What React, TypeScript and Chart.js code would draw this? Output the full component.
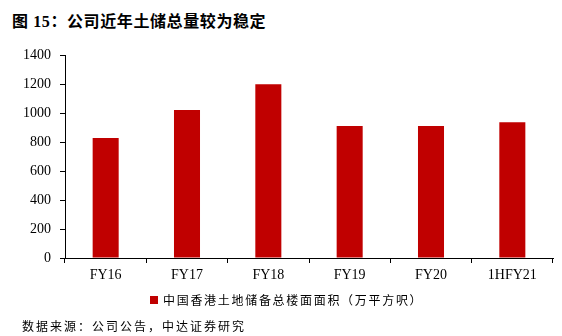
import React, { useEffect, useRef } from "react";
import { Chart, registerables } from "chart.js";

Chart.register(...registerables);

const categories = ["FY16", "FY17", "FY18", "FY19", "FY20", "1HFY21"];
const landBank = [827, 1020, 1198, 910, 910, 936];
const yTicks = [0, 200, 400, 600, 800, 1000, 1200, 1400];
const seriesName = "中国香港土地储备总楼面面积（万平方呎）";
const titleText = "图 15：公司近年土储总量较为稳定";
const sourceText = "数据来源：公司公告，中达证券研究";

export default function App() {
  const ref = useRef<HTMLCanvasElement | null>(null);
  useEffect(() => {
    document.body.style.margin = "0";
    const chart = new Chart(ref.current as HTMLCanvasElement, {
      type: "bar",
      data: {
        labels: categories,
        datasets: [
          {
            label: seriesName,
            data: landBank,
            backgroundColor: "#C00000",
            borderWidth: 0,
            barPercentage: 0.32,
            categoryPercentage: 1,
          },
        ],
      },
      options: {
        animation: false,
        responsive: false,
        maintainAspectRatio: false,
        layout: { padding: { left: 0, right: 9, top: 55, bottom: 53 } },
        plugins: { legend: { display: false }, title: { display: false }, tooltip: { enabled: false } },
        scales: {
          x: {
            afterFit: (s: any) => { s.height = 25; },
            grid: { display: true, offset: true, drawOnChartArea: false, drawTicks: true, tickLength: 5, color: "#000" },
            border: { display: true, color: "#000", width: 1 },
            ticks: { color: "#000", font: { family: "'Liberation Serif', 'Times New Roman', serif", size: 14 }, padding: 4 },
          },
          y: {
            min: 0,
            max: 1400,
            afterFit: (s: any) => { s.width = 65; },
            afterBuildTicks: (s: any) => { s.ticks = yTicks.map((v) => ({ value: v })); },
            grid: { display: true, drawOnChartArea: false, drawTicks: true, tickLength: 5, color: "#000" },
            border: { display: true, color: "#000", width: 1 },
            ticks: {
              color: "#000",
              font: { family: "'Liberation Serif', 'Times New Roman', serif", size: 14 },
              padding: 9,
              callback: (v: any) => String(v),
            },
          },
        },
      },
    });
    return () => chart.destroy();
  }, []);

  return (
    <div style={{ position: "absolute", left: 0, top: 0, width: 562, height: 336, background: "#fff", overflow: "hidden" }}>
      <div
        style={{
          position: "absolute", left: 12, top: 12, fontSize: 16, fontWeight: "bold", whiteSpace: "nowrap", letterSpacing: 0.6,
          fontFamily: "'Liberation Serif', 'Noto Sans CJK SC', serif", lineHeight: "20px", color: "#000",
        }}
      >
        {titleText}
      </div>
      <canvas ref={ref} width={562} height={336} style={{ position: "absolute", left: 0, top: 0, width: 562, height: 336 }} />
      <div style={{ position: "absolute", left: 150, top: 292, display: "flex", alignItems: "center", whiteSpace: "nowrap" }}>
        <div style={{ width: 8, height: 8, background: "#C00000", marginRight: 5 }} />
        <span style={{ fontFamily: "'Noto Sans CJK SC', sans-serif", fontSize: 12, letterSpacing: 1.7, lineHeight: "16px", color: "#000" }}>
          {seriesName}
        </span>
      </div>
      <div
        style={{
          position: "absolute", left: 22, top: 318, whiteSpace: "nowrap",
          fontFamily: "'Noto Sans CJK SC', sans-serif", fontSize: 12, letterSpacing: 2, lineHeight: "16px", color: "#000",
        }}
      >
        {sourceText}
      </div>
    </div>
  );
}
